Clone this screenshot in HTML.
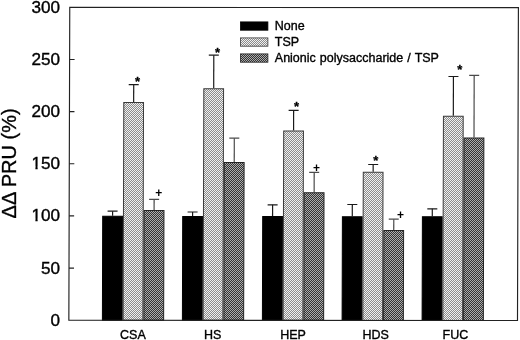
<!DOCTYPE html>
<html><head><meta charset="utf-8"><title>Chart</title>
<style>
html,body{margin:0;padding:0;background:#fff;}
text{stroke:#000;stroke-width:0.35px;}
text.m{stroke:none;}
text.s{stroke-width:0.3px;}
svg{display:block;filter:grayscale(1);font-family:"Liberation Sans",sans-serif;fill:#000;}
</style></head><body>
<svg width="520" height="340" viewBox="0 0 520 340">
<defs>
<pattern id="pl" width="2" height="2" patternUnits="userSpaceOnUse" patternTransform="matrix(0.999998 -0.000670 0.002900 0.999998 -0.9284 0.0468)">
<rect width="2" height="2" fill="#8c8c8c"/><rect x="0" y="0" width="1" height="1" fill="#f0f0f0"/><rect x="1" y="1" width="1" height="1" fill="#f0f0f0"/>
</pattern>
<pattern id="pd" width="2" height="2" patternUnits="userSpaceOnUse" patternTransform="matrix(0.999998 -0.000670 0.002900 0.999998 -0.9284 0.0468)">
<rect width="2" height="2" fill="#343434"/><rect x="0" y="0" width="1" height="1" fill="#acacac"/><rect x="1" y="1" width="1" height="1" fill="#acacac"/>
</pattern>
<pattern id="ql" width="2" height="2" patternUnits="userSpaceOnUse">
<rect width="2" height="2" fill="#8c8c8c"/><rect x="0" y="0" width="1" height="1" fill="#f0f0f0"/><rect x="1" y="1" width="1" height="1" fill="#f0f0f0"/>
</pattern>
<pattern id="qd" width="2" height="2" patternUnits="userSpaceOnUse">
<rect width="2" height="2" fill="#343434"/><rect x="0" y="0" width="1" height="1" fill="#acacac"/><rect x="1" y="1" width="1" height="1" fill="#acacac"/>
</pattern>
</defs>
<rect width="520" height="340" fill="#fff"/>

<g transform="matrix(1 0.00067 -0.0029 1 0.9286 -0.0461)">
<line x1="112.28" y1="211.17" x2="112.28" y2="215.82" stroke="#1a1a1a" stroke-width="1.2"/>
<line x1="107.28" y1="211.17" x2="117.28" y2="211.17" stroke="#1a1a1a" stroke-width="1.2"/>
<rect x="102.40" y="216.32" width="19.75" height="103.88" fill="#000" stroke="#000" stroke-width="1"/>
<line x1="133.03" y1="84.66" x2="133.03" y2="101.86" stroke="#1a1a1a" stroke-width="1.2"/>
<line x1="128.03" y1="84.66" x2="138.03" y2="84.66" stroke="#1a1a1a" stroke-width="1.2"/>
<rect x="123.15" y="102.36" width="19.75" height="217.84" fill="url(#pl)" stroke="#3a3a3a" stroke-width="1"/>
<line x1="153.78" y1="199.34" x2="153.78" y2="209.94" stroke="#4a4a4a" stroke-width="1.2"/>
<line x1="148.78" y1="199.34" x2="158.78" y2="199.34" stroke="#4a4a4a" stroke-width="1.2"/>
<rect x="143.90" y="210.44" width="19.75" height="109.76" fill="url(#pd)" stroke="#222" stroke-width="1"/>
<line x1="192.28" y1="211.92" x2="192.28" y2="216.02" stroke="#1a1a1a" stroke-width="1.2"/>
<line x1="187.28" y1="211.92" x2="197.28" y2="211.92" stroke="#1a1a1a" stroke-width="1.2"/>
<rect x="182.40" y="216.52" width="19.75" height="103.68" fill="#000" stroke="#000" stroke-width="1"/>
<line x1="213.03" y1="55.10" x2="213.03" y2="88.10" stroke="#1a1a1a" stroke-width="1.2"/>
<line x1="208.03" y1="55.10" x2="218.03" y2="55.10" stroke="#1a1a1a" stroke-width="1.2"/>
<rect x="203.15" y="88.60" width="19.75" height="231.60" fill="url(#pl)" stroke="#3a3a3a" stroke-width="1"/>
<line x1="233.78" y1="138.09" x2="233.78" y2="161.89" stroke="#4a4a4a" stroke-width="1.2"/>
<line x1="228.78" y1="138.09" x2="238.78" y2="138.09" stroke="#4a4a4a" stroke-width="1.2"/>
<rect x="223.90" y="162.39" width="19.75" height="157.81" fill="url(#pd)" stroke="#222" stroke-width="1"/>
<line x1="272.27" y1="204.66" x2="272.27" y2="215.96" stroke="#1a1a1a" stroke-width="1.2"/>
<line x1="267.27" y1="204.66" x2="277.27" y2="204.66" stroke="#1a1a1a" stroke-width="1.2"/>
<rect x="262.40" y="216.46" width="19.75" height="103.74" fill="#000" stroke="#000" stroke-width="1"/>
<line x1="293.02" y1="110.25" x2="293.02" y2="130.25" stroke="#1a1a1a" stroke-width="1.2"/>
<line x1="288.02" y1="110.25" x2="298.02" y2="110.25" stroke="#1a1a1a" stroke-width="1.2"/>
<rect x="283.15" y="130.75" width="19.75" height="189.45" fill="url(#pl)" stroke="#3a3a3a" stroke-width="1"/>
<line x1="313.77" y1="172.24" x2="313.77" y2="192.19" stroke="#4a4a4a" stroke-width="1.2"/>
<line x1="308.77" y1="172.24" x2="318.77" y2="172.24" stroke="#4a4a4a" stroke-width="1.2"/>
<rect x="303.90" y="192.69" width="19.75" height="127.51" fill="url(#pd)" stroke="#222" stroke-width="1"/>
<line x1="351.98" y1="204.31" x2="351.98" y2="216.01" stroke="#1a1a1a" stroke-width="1.2"/>
<line x1="346.98" y1="204.31" x2="356.98" y2="204.31" stroke="#1a1a1a" stroke-width="1.2"/>
<rect x="342.10" y="216.51" width="19.75" height="103.69" fill="#000" stroke="#000" stroke-width="1"/>
<line x1="372.73" y1="164.30" x2="372.73" y2="171.60" stroke="#1a1a1a" stroke-width="1.2"/>
<line x1="367.73" y1="164.30" x2="377.73" y2="164.30" stroke="#1a1a1a" stroke-width="1.2"/>
<rect x="362.85" y="172.10" width="19.75" height="148.10" fill="url(#pl)" stroke="#3a3a3a" stroke-width="1"/>
<line x1="393.48" y1="218.98" x2="393.48" y2="229.68" stroke="#4a4a4a" stroke-width="1.2"/>
<line x1="388.48" y1="218.98" x2="398.48" y2="218.98" stroke="#4a4a4a" stroke-width="1.2"/>
<rect x="383.60" y="230.18" width="19.75" height="90.02" fill="url(#pd)" stroke="#222" stroke-width="1"/>
<line x1="431.98" y1="208.56" x2="431.98" y2="215.96" stroke="#1a1a1a" stroke-width="1.2"/>
<line x1="426.98" y1="208.56" x2="436.98" y2="208.56" stroke="#1a1a1a" stroke-width="1.2"/>
<rect x="422.10" y="216.46" width="19.75" height="103.74" fill="#000" stroke="#000" stroke-width="1"/>
<line x1="452.73" y1="76.24" x2="452.73" y2="115.54" stroke="#1a1a1a" stroke-width="1.2"/>
<line x1="447.73" y1="76.24" x2="457.73" y2="76.24" stroke="#1a1a1a" stroke-width="1.2"/>
<rect x="442.85" y="116.04" width="19.75" height="204.16" fill="url(#pl)" stroke="#3a3a3a" stroke-width="1"/>
<line x1="473.48" y1="75.08" x2="473.48" y2="137.33" stroke="#4a4a4a" stroke-width="1.2"/>
<line x1="468.48" y1="75.08" x2="478.48" y2="75.08" stroke="#4a4a4a" stroke-width="1.2"/>
<rect x="463.60" y="137.83" width="19.75" height="182.37" fill="url(#pd)" stroke="#222" stroke-width="1"/>
<rect x="68.85" y="7.35" width="448.65" height="312.84999999999997" fill="none" stroke="#222" stroke-width="1.15"/>
<line x1="68.85" y1="268.06" x2="73.85" y2="268.06" stroke="#222" stroke-width="1.15"/>
<line x1="68.85" y1="215.92" x2="73.85" y2="215.92" stroke="#222" stroke-width="1.15"/>
<line x1="68.85" y1="163.78" x2="73.85" y2="163.78" stroke="#222" stroke-width="1.15"/>
<line x1="68.85" y1="111.63" x2="73.85" y2="111.63" stroke="#222" stroke-width="1.15"/>
<line x1="68.85" y1="59.49" x2="73.85" y2="59.49" stroke="#222" stroke-width="1.15"/>
</g>
<text x="137.50"  y="85.85" class="s" font-size="13" font-weight="bold" text-anchor="middle">*</text>
<text x="158.80" y="196.90" class="m" font-size="12" font-weight="bold" text-anchor="middle">+</text>
<text x="217.60"  y="56.55" class="s" font-size="13" font-weight="bold" text-anchor="middle">*</text>
<text x="296.50"  y="111.25" class="s" font-size="13" font-weight="bold" text-anchor="middle">*</text>
<text x="316.50" y="171.55" class="m" font-size="12" font-weight="bold" text-anchor="middle">+</text>
<text x="375.80"  y="165.35" class="s" font-size="13" font-weight="bold" text-anchor="middle">*</text>
<text x="400.40" y="218.60" class="m" font-size="12" font-weight="bold" text-anchor="middle">+</text>
<text x="459.70"  y="74.15" class="s" font-size="13" font-weight="bold" text-anchor="middle">*</text>
<text transform="translate(60.1,325.65) scale(1.07,1)" font-size="16" text-anchor="end">0</text>
<text transform="translate(60.1,273.51) scale(1.07,1)" font-size="16" text-anchor="end">50</text>
<text transform="translate(60.1,221.37) scale(1.07,1)" font-size="16" text-anchor="end">100</text>
<rect x="31" y="218.77" width="4.4" height="3.4" fill="#fff"/><rect x="37.65" y="218.77" width="3.3" height="3.4" fill="#fff"/>
<text transform="translate(60.1,169.22) scale(1.07,1)" font-size="16" text-anchor="end">150</text>
<rect x="31" y="166.62" width="4.4" height="3.4" fill="#fff"/><rect x="37.65" y="166.62" width="3.3" height="3.4" fill="#fff"/>
<text transform="translate(60.1,117.08) scale(1.07,1)" font-size="16" text-anchor="end">200</text>
<text transform="translate(60.1,64.94) scale(1.07,1)" font-size="16" text-anchor="end">250</text>
<text transform="translate(60.1,12.80) scale(1.07,1)" font-size="16" text-anchor="end">300</text>
<text x="132.90" y="339.0" font-size="12.5" text-anchor="middle">CSA</text>
<text x="212.60" y="339.0" font-size="12.5" text-anchor="middle">HS</text>
<text x="293.00" y="339.0" font-size="12.5" text-anchor="middle">HEP</text>
<text x="375.60" y="339.0" font-size="12.5" text-anchor="middle">HDS</text>
<text x="455.40" y="339.0" font-size="12.5" text-anchor="middle">FUC</text>
<text transform="translate(16.4,163.4) rotate(-90)" font-size="20" text-anchor="middle">ΔΔ PRU (%)</text>
<rect x="240.5" y="21.90"  width="27.4" height="8.3" fill="#000" stroke="#000" stroke-width="0.8"/>
<text x="274.8" y="30.20" font-size="12.5" word-spacing="0.6">None</text>
<rect x="240.5" y="37.90"  width="27.4" height="8.3" fill="url(#ql)" stroke="#3a3a3a" stroke-width="0.8"/>
<text x="274.8" y="46.20" font-size="12.5" word-spacing="0.6">TSP</text>
<rect x="240.5" y="53.90"  width="27.4" height="8.3" fill="url(#qd)" stroke="#222" stroke-width="0.8"/>
<text x="274.8" y="62.20" font-size="12.5" word-spacing="0.6">Anionic polysaccharide / TSP</text>
</svg>
</body></html>
